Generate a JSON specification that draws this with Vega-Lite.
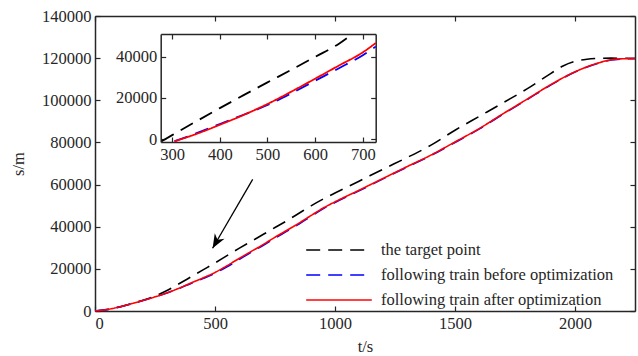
{
  "$schema": "https://vega.github.io/schema/vega-lite/v6.json",
  "width": 540,
  "height": 295,
  "autosize": "none",
  "padding": {"left": 95, "top": 16, "right": 3, "bottom": 45},
  "config": {
    "font": "Liberation Serif",
    "view": {"stroke": null},
    "axis": {
      "labelFont": "Liberation Serif", "labelFontSize": 16.5, "labelColor": "#262626",
      "titleFont": "Liberation Serif", "titleFontSize": 16.5, "titleFontWeight": "normal", "titleColor": "#262626",
      "domainColor": "#262626", "domainWidth": 1.5, "tickColor": "#262626", "tickWidth": 1.2,
      "tickSize": -5, "labelPadding": 9, "grid": false
    },
    "legend": {
      "labelFont": "Liberation Serif", "labelFontSize": 16.5, "labelColor": "#262626", "labelLimit": 500,
      "symbolType": "M-4.1,0H4.1", "symbolSize": 256, "symbolStrokeWidth": 1.6,
      "labelOffset": 33, "rowPadding": 7, "padding": 0
    }
  },
  "datasets": {
    "main": [
      {"t": 0, "s": 0, "series": "the target point"},
      {"t": 50, "s": 700, "series": "the target point"},
      {"t": 100, "s": 1900, "series": "the target point"},
      {"t": 150, "s": 3400, "series": "the target point"},
      {"t": 200, "s": 5100, "series": "the target point"},
      {"t": 250, "s": 7100, "series": "the target point"},
      {"t": 300, "s": 9700, "series": "the target point"},
      {"t": 350, "s": 12900, "series": "the target point"},
      {"t": 400, "s": 16200, "series": "the target point"},
      {"t": 450, "s": 19500, "series": "the target point"},
      {"t": 500, "s": 22800, "series": "the target point"},
      {"t": 550, "s": 26300, "series": "the target point"},
      {"t": 600, "s": 29700, "series": "the target point"},
      {"t": 650, "s": 33000, "series": "the target point"},
      {"t": 700, "s": 36300, "series": "the target point"},
      {"t": 750, "s": 39600, "series": "the target point"},
      {"t": 800, "s": 42900, "series": "the target point"},
      {"t": 850, "s": 46400, "series": "the target point"},
      {"t": 900, "s": 49900, "series": "the target point"},
      {"t": 950, "s": 53100, "series": "the target point"},
      {"t": 1000, "s": 56000, "series": "the target point"},
      {"t": 1100, "s": 61600, "series": "the target point"},
      {"t": 1200, "s": 67300, "series": "the target point"},
      {"t": 1300, "s": 72800, "series": "the target point"},
      {"t": 1400, "s": 78700, "series": "the target point"},
      {"t": 1500, "s": 85800, "series": "the target point"},
      {"t": 1600, "s": 92300, "series": "the target point"},
      {"t": 1700, "s": 98800, "series": "the target point"},
      {"t": 1800, "s": 105400, "series": "the target point"},
      {"t": 1900, "s": 112800, "series": "the target point"},
      {"t": 1950, "s": 116300, "series": "the target point"},
      {"t": 2000, "s": 118500, "series": "the target point"},
      {"t": 2050, "s": 119500, "series": "the target point"},
      {"t": 2100, "s": 119900, "series": "the target point"},
      {"t": 2150, "s": 120000, "series": "the target point"},
      {"t": 2250, "s": 119800, "series": "the target point"},
      {"t": 0, "s": 0, "series": "following train before optimization"},
      {"t": 50, "s": 650, "series": "following train before optimization"},
      {"t": 100, "s": 1850, "series": "following train before optimization"},
      {"t": 150, "s": 3350, "series": "following train before optimization"},
      {"t": 200, "s": 4950, "series": "following train before optimization"},
      {"t": 250, "s": 6650, "series": "following train before optimization"},
      {"t": 300, "s": 8550, "series": "following train before optimization"},
      {"t": 350, "s": 10700, "series": "following train before optimization"},
      {"t": 400, "s": 13100, "series": "following train before optimization"},
      {"t": 450, "s": 15400, "series": "following train before optimization"},
      {"t": 500, "s": 17900, "series": "following train before optimization"},
      {"t": 550, "s": 21000, "series": "following train before optimization"},
      {"t": 600, "s": 24400, "series": "following train before optimization"},
      {"t": 650, "s": 27800, "series": "following train before optimization"},
      {"t": 700, "s": 31100, "series": "following train before optimization"},
      {"t": 750, "s": 34600, "series": "following train before optimization"},
      {"t": 800, "s": 37900, "series": "following train before optimization"},
      {"t": 850, "s": 41300, "series": "following train before optimization"},
      {"t": 900, "s": 44900, "series": "following train before optimization"},
      {"t": 950, "s": 48500, "series": "following train before optimization"},
      {"t": 1000, "s": 51500, "series": "following train before optimization"},
      {"t": 1100, "s": 57000, "series": "following train before optimization"},
      {"t": 1200, "s": 62700, "series": "following train before optimization"},
      {"t": 1300, "s": 68300, "series": "following train before optimization"},
      {"t": 1400, "s": 73800, "series": "following train before optimization"},
      {"t": 1500, "s": 80000, "series": "following train before optimization"},
      {"t": 1600, "s": 86300, "series": "following train before optimization"},
      {"t": 1700, "s": 93400, "series": "following train before optimization"},
      {"t": 1800, "s": 100300, "series": "following train before optimization"},
      {"t": 1900, "s": 107300, "series": "following train before optimization"},
      {"t": 2000, "s": 113400, "series": "following train before optimization"},
      {"t": 2100, "s": 117700, "series": "following train before optimization"},
      {"t": 2150, "s": 119100, "series": "following train before optimization"},
      {"t": 2200, "s": 119600, "series": "following train before optimization"},
      {"t": 2250, "s": 119800, "series": "following train before optimization"},
      {"t": 0, "s": 0, "series": "following train after optimization"},
      {"t": 50, "s": 700, "series": "following train after optimization"},
      {"t": 100, "s": 1900, "series": "following train after optimization"},
      {"t": 150, "s": 3400, "series": "following train after optimization"},
      {"t": 200, "s": 5000, "series": "following train after optimization"},
      {"t": 250, "s": 6700, "series": "following train after optimization"},
      {"t": 300, "s": 8600, "series": "following train after optimization"},
      {"t": 350, "s": 10800, "series": "following train after optimization"},
      {"t": 400, "s": 13300, "series": "following train after optimization"},
      {"t": 450, "s": 15700, "series": "following train after optimization"},
      {"t": 500, "s": 18300, "series": "following train after optimization"},
      {"t": 550, "s": 21500, "series": "following train after optimization"},
      {"t": 600, "s": 24900, "series": "following train after optimization"},
      {"t": 650, "s": 28200, "series": "following train after optimization"},
      {"t": 700, "s": 31500, "series": "following train after optimization"},
      {"t": 750, "s": 35000, "series": "following train after optimization"},
      {"t": 800, "s": 38300, "series": "following train after optimization"},
      {"t": 850, "s": 41700, "series": "following train after optimization"},
      {"t": 900, "s": 45300, "series": "following train after optimization"},
      {"t": 950, "s": 48800, "series": "following train after optimization"},
      {"t": 1000, "s": 51800, "series": "following train after optimization"},
      {"t": 1100, "s": 57300, "series": "following train after optimization"},
      {"t": 1200, "s": 62900, "series": "following train after optimization"},
      {"t": 1300, "s": 68500, "series": "following train after optimization"},
      {"t": 1400, "s": 74000, "series": "following train after optimization"},
      {"t": 1500, "s": 80200, "series": "following train after optimization"},
      {"t": 1600, "s": 86500, "series": "following train after optimization"},
      {"t": 1700, "s": 93600, "series": "following train after optimization"},
      {"t": 1800, "s": 100500, "series": "following train after optimization"},
      {"t": 1900, "s": 107500, "series": "following train after optimization"},
      {"t": 2000, "s": 113500, "series": "following train after optimization"},
      {"t": 2100, "s": 117800, "series": "following train after optimization"},
      {"t": 2150, "s": 119200, "series": "following train after optimization"},
      {"t": 2200, "s": 119700, "series": "following train after optimization"},
      {"t": 2250, "s": 119800, "series": "following train after optimization"}
    ],
    "inset": [
      {"t": 278, "s": -1100, "series": "the target point"},
      {"t": 300, "s": 1900, "series": "the target point"},
      {"t": 350, "s": 8500, "series": "the target point"},
      {"t": 400, "s": 15000, "series": "the target point"},
      {"t": 450, "s": 21300, "series": "the target point"},
      {"t": 500, "s": 27500, "series": "the target point"},
      {"t": 550, "s": 33600, "series": "the target point"},
      {"t": 600, "s": 39900, "series": "the target point"},
      {"t": 650, "s": 46300, "series": "the target point"},
      {"t": 676, "s": 50600, "series": "the target point"},
      {"t": 305, "s": -1100, "series": "following train before optimization"},
      {"t": 350, "s": 2700, "series": "following train before optimization"},
      {"t": 400, "s": 7300, "series": "following train before optimization"},
      {"t": 450, "s": 11800, "series": "following train before optimization"},
      {"t": 500, "s": 16500, "series": "following train before optimization"},
      {"t": 550, "s": 22200, "series": "following train before optimization"},
      {"t": 600, "s": 28300, "series": "following train before optimization"},
      {"t": 650, "s": 34400, "series": "following train before optimization"},
      {"t": 700, "s": 40700, "series": "following train before optimization"},
      {"t": 727, "s": 44900, "series": "following train before optimization"},
      {"t": 305, "s": -1100, "series": "following train after optimization"},
      {"t": 350, "s": 2400, "series": "following train after optimization"},
      {"t": 400, "s": 6900, "series": "following train after optimization"},
      {"t": 450, "s": 11700, "series": "following train after optimization"},
      {"t": 500, "s": 17000, "series": "following train after optimization"},
      {"t": 550, "s": 23000, "series": "following train after optimization"},
      {"t": 600, "s": 29300, "series": "following train after optimization"},
      {"t": 650, "s": 35700, "series": "following train after optimization"},
      {"t": 700, "s": 42100, "series": "following train after optimization"},
      {"t": 727, "s": 46600, "series": "following train after optimization"}
    ],
    "arrow": [
      {"t1": 657, "s1": 62500, "t2": 490, "s2": 29800}
    ]
  },
  "layer": [
    {
      "layer": [
        {
          "data": {"name": "main"},
          "mark": {"type": "line", "strokeWidth": 1.6, "interpolate": "monotone"},
          "encoding": {
            "x": {"field": "t", "type": "quantitative", "scale": {"domain": [0, 2250], "nice": false, "zero": false},
                  "axis": {"orient": "bottom", "title": "t/s", "values": [0, 500, 1000, 1500, 2000], "format": "d", "titlePadding": 7}},
            "y": {"field": "s", "type": "quantitative", "scale": {"domain": [0, 140000], "nice": false},
                  "axis": {"orient": "left", "title": "s/m", "values": [0, 20000, 40000, 60000, 80000, 100000, 120000, 140000], "format": "d", "titlePadding": 15}},
            "color": {"field": "series", "type": "nominal",
                      "scale": {"domain": ["the target point", "following train before optimization", "following train after optimization"], "range": ["#000000", "#0000ff", "#ff0000"]},
                      "legend": {"title": null, "orient": "none", "legendX": 235, "legendY": 225}},
            "strokeDash": {"field": "series", "type": "nominal",
                      "scale": {"domain": ["the target point", "following train before optimization", "following train after optimization"], "range": [[14, 8], [14, 8], [1, 0]]},
                      "legend": {"title": null, "orient": "none", "legendX": 235, "legendY": 225}}
          }
        },
        {
          "data": {"name": "arrow"},
          "mark": {"type": "rule", "color": "#000000", "strokeWidth": 1.3},
          "encoding": {
            "x": {"field": "t1", "type": "quantitative"},
            "y": {"field": "s1", "type": "quantitative"},
            "x2": {"field": "t2"},
            "y2": {"field": "s2"}
          }
        },
        {
          "data": {"name": "arrow"},
          "mark": {"type": "point", "shape": "M0,0L-0.8,-2L0,-1.4L0.8,-2Z", "filled": true, "color": "#000000", "opacity": 1, "size": 200, "angle": 30},
          "encoding": {
            "x": {"field": "t2", "type": "quantitative"},
            "y": {"field": "s2", "type": "quantitative"}
          }
        }
      ]
    },
    {
      "data": {"name": "main"},
      "mark": {"type": "line", "strokeOpacity": 0},
      "encoding": {
        "x": {"field": "t", "type": "quantitative", "scale": {"domain": [0, 2250], "nice": false, "zero": false},
              "axis": {"orient": "top", "title": null, "labels": false, "values": [0, 500, 1000, 1500, 2000]}},
        "y": {"field": "s", "type": "quantitative", "scale": {"domain": [0, 140000], "nice": false},
              "axis": {"orient": "right", "title": null, "labels": false, "values": [0, 20000, 40000, 60000, 80000, 100000, 120000, 140000]}},
        "detail": {"field": "series"}
      }
    },
    {
      "data": {"name": "inset"},
      "mark": {"type": "line", "strokeWidth": 1.8, "interpolate": "monotone"},
      "encoding": {
        "x": {"field": "t", "type": "quantitative", "scale": {"domain": [276, 727], "nice": false, "zero": false, "range": [65.7, 280.7]},
              "axis": {"orient": "bottom", "offset": -169, "title": null, "values": [300, 400, 500, 600, 700], "format": "d"}},
        "y": {"field": "s", "type": "quantitative", "scale": {"domain": [-1450, 51000], "nice": false, "zero": false, "range": [126, 18]},
              "axis": {"orient": "left", "offset": -65.7, "title": null, "values": [0, 20000, 40000], "format": "d"}},
        "color": {"field": "series", "type": "nominal", "legend": null},
        "strokeDash": {"field": "series", "type": "nominal", "legend": null}
      }
    },
    {
      "data": {"name": "inset"},
      "mark": {"type": "line", "strokeOpacity": 0},
      "encoding": {
        "x": {"field": "t", "type": "quantitative", "scale": {"domain": [276, 727], "nice": false, "zero": false, "range": [65.7, 280.7]},
              "axis": {"orient": "top", "offset": -18, "title": null, "labels": false, "values": [300, 400, 500, 600, 700]}},
        "y": {"field": "s", "type": "quantitative", "scale": {"domain": [-1450, 51000], "nice": false, "zero": false, "range": [126, 18]},
              "axis": {"orient": "right", "offset": -259.3, "title": null, "labels": false, "values": [0, 20000, 40000]}},
        "detail": {"field": "series"}
      }
    }
  ],
  "resolve": {"scale": {"x": "independent", "y": "independent"}, "axis": {"x": "independent", "y": "independent"}}
}
